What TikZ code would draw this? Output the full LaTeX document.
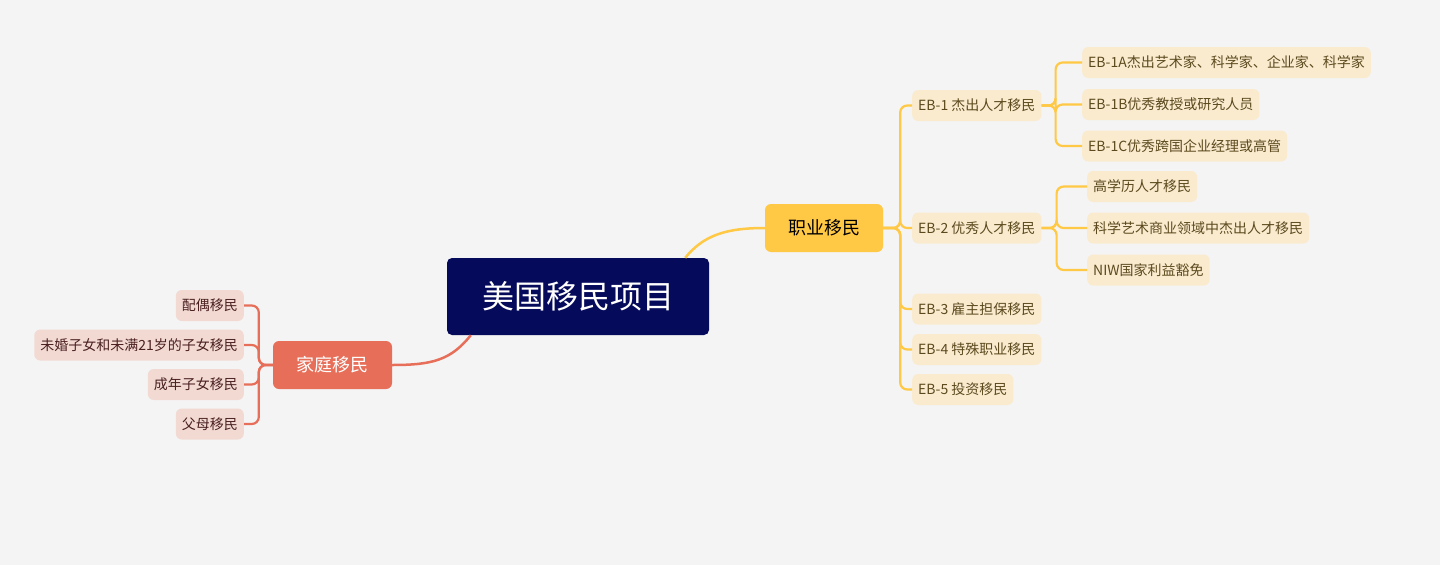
\documentclass[tikz,border=0pt]{standalone}
\usepackage{fontspec}
\setmainfont{Noto Sans CJK SC}
\usetikzlibrary{calc}
\begin{document}
\begin{tikzpicture}[x=1pt,y=-1pt,
  ybox/.style={fill=ylf,rounded corners=6pt,minimum height=31pt,inner xsep=6pt,inner ysep=0pt,font=\fontsize{14}{16}\selectfont,text=ytx},
  rbox/.style={fill=rlf,rounded corners=6pt,minimum height=31pt,inner xsep=6pt,inner ysep=0pt,font=\fontsize{14}{16}\selectfont,text=rtx},
  yl/.style={draw=ylc,line width=2.2pt,rounded corners=7pt},
  rl/.style={draw=rlc,line width=2.2pt,rounded corners=7pt}]
\definecolor{bg}{HTML}{F4F4F4}
\definecolor{navy}{HTML}{050A5A}
\definecolor{ylc}{HTML}{FFC845}
\definecolor{ylf}{HTML}{FAEBCF}
\definecolor{ytx}{HTML}{5C4A1E}
\definecolor{rlc}{HTML}{E76F59}
\definecolor{rlf}{HTML}{F2DAD3}
\definecolor{rtx}{HTML}{4A2020}
\fill[bg] (0,0) rectangle (1440,565);
\useasboundingbox (0,0) rectangle (1440,565);
\node[fill=navy,rounded corners=5pt,minimum width=262pt,minimum height=77pt,text=white,font=\fontsize{32}{36}\selectfont] (root) at (578,296.5) {美国移民项目};
\node[fill=ylc,rounded corners=6pt,minimum width=118pt,minimum height=48pt,font=\fontsize{18}{20}\selectfont] (job) at (824,228) {职业移民};
\node[fill=rlc,rounded corners=6pt,minimum width=119pt,minimum height=48pt,text=white,font=\fontsize{18}{20}\selectfont] (fam) at (332.5,365) {家庭移民};
\coordinate (r1) at ($(root.north east)+(-24,0)$);
\coordinate (r2) at ($(root.south west)+(24,0)$);
\draw[draw=ylc,line width=2.5pt] (r1) .. controls +(18,-22) and +(-40,0) .. (job.west);
\draw[draw=rlc,line width=2.5pt] (r2) .. controls +(-20,25) and +(40,0) .. (fam.east);
% right
\node[ybox,anchor=west] (eb1) at (912,105.5) {EB-1 杰出人才移民};
\node[ybox,anchor=west] (eb2) at (912,228) {EB-2 优秀人才移民};
\node[ybox,anchor=west] (eb3) at (912,309) {EB-3 雇主担保移民};
\node[ybox,anchor=west] (eb4) at (912,349.5) {EB-4 特殊职业移民};
\node[ybox,anchor=west] (eb5) at (912,389.5) {EB-5 投资移民};
\node[ybox,anchor=west] (a1) at (1082,62.5) {EB-1A杰出艺术家、科学家、企业家、科学家};
\node[ybox,anchor=west] (a2) at (1082,104.5) {EB-1B优秀教授或研究人员};
\node[ybox,anchor=west] (a3) at (1082,146) {EB-1C优秀跨国企业经理或高管};
\node[ybox,anchor=west] (b1) at (1087,186.5) {高学历人才移民};
\node[ybox,anchor=west] (b2) at (1087,228) {科学艺术商业领域中杰出人才移民};
\node[ybox,anchor=west] (b3) at (1087,270) {NIW国家利益豁免};
\foreach \c in {eb1,eb2,eb3,eb4,eb5} \draw[yl] (job.east) -- ++(17,0) |- (\c.west);
\foreach \c in {a1,a2,a3} \draw[yl] (eb1.east) -- ++(14,0) |- (\c.west);
\foreach \c in {b1,b2,b3} \draw[yl] (eb2.east) -- ++(15,0) |- (\c.west);
% left
\node[rbox,anchor=east] (f1) at (244,305.5) {配偶移民};
\node[rbox,anchor=east] (f2) at (244,345) {未婚子女和未满21岁的子女移民};
\node[rbox,anchor=east] (f3) at (244,384.5) {成年子女移民};
\node[rbox,anchor=east] (f4) at (244,424) {父母移民};
\foreach \c in {f1,f2,f3,f4} \draw[rl] (fam.west) -- ++(-14,0) |- (\c.east);
\end{tikzpicture}
\end{document}
